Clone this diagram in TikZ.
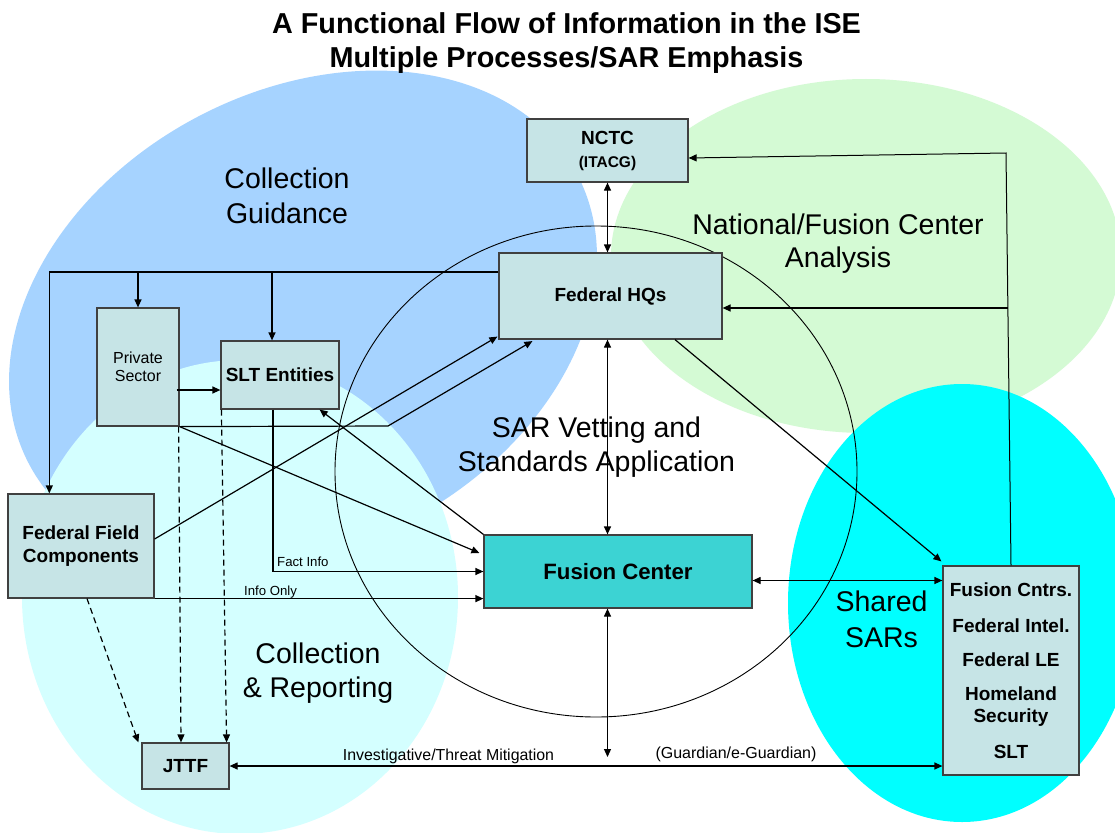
\documentclass[tikz,border=0pt]{standalone}
\usepackage{fontspec}
\setmainfont{Liberation Sans}
\usetikzlibrary{arrows.meta,calc}
\definecolor{cgblue}{RGB}{166,211,255}
\definecolor{cggreen}{RGB}{212,250,212}
\definecolor{cglcyan}{RGB}{212,255,255}
\definecolor{cgcyan}{RGB}{0,255,255}
\definecolor{boxfill}{RGB}{198,228,230}
\definecolor{fcfill}{RGB}{60,211,211}
\definecolor{boxline}{RGB}{64,64,64}
\begin{document}
\begin{tikzpicture}[x=1pt,y=-1pt,
  box/.style={draw=boxline, line width=1.2pt, fill=boxfill, inner sep=0pt, align=center,
              font=\bfseries\fontsize{19}{23}\selectfont},
  conn/.style={line width=1.2pt, -{Triangle[length=8pt,width=7pt]}},
  conntwo/.style={line width=1.2pt, {Triangle[length=8pt,width=7pt]}-{Triangle[length=8pt,width=7pt]}},
  dconn/.style={conn, dash pattern=on 6pt off 4pt},
  region/.style={align=center, inner sep=0pt, anchor=north},
  lbl/.style={inner sep=0pt, font=\fontsize{13.2}{15}\selectfont}
]
\useasboundingbox (0,0) rectangle (1115,832);
\clip (0,0) rectangle (1115,832);
\fill[white] (0,0) rectangle (1115,832);

% background regions
\fill[cgblue, rotate around={28:(303,319)}] (303,319) ellipse [x radius=310pt, y radius=228pt];
\fill[cggreen] (866,256) ellipse [x radius=255pt, y radius=177pt];
\fill[cglcyan] (240,597) ellipse [x radius=218pt, y radius=237pt];
\fill[cgcyan] (962,603) ellipse [x radius=174pt, y radius=219pt];
\draw[line width=0.9pt] (596,471.5) ellipse [x radius=261pt, y radius=245.5pt];

% title
\node[region, font=\bfseries\fontsize{28.8}{34}\selectfont] (title) at (566.5,12.4)
  {A Functional Flow of Information in the ISE\\Multiple Processes/SAR Emphasis};

% region labels
\node[region, font=\fontsize{28.5}{35}\selectfont] (rguide) at (287,167.5) {Collection\\Guidance};
\node[region, font=\fontsize{28.5}{33.5}\selectfont] (rnat) at (838,213.5) {National/Fusion Center\\Analysis};
\node[region, font=\fontsize{28.5}{34}\selectfont] (rsar) at (596.5,416.5) {SAR Vetting and\\Standards Application};
\node[region, font=\fontsize{28.5}{34}\selectfont] (rrep) at (318,642.5) {Collection\\\& Reporting};
\node[region, font=\fontsize{28.5}{36}\selectfont] (rshared) at (881.5,590.5) {Shared\\SARs};

% boxes
\node[box, minimum width=161pt, minimum height=63pt] (nctc) at (607.5,150.5)
  {{\fontsize{19}{20}\selectfont NCTC}\\{\fontsize{15.5}{20}\selectfont (ITACG)}};
\node[box, minimum width=223pt, minimum height=86pt] (fhq) at (610.5,296) {Federal HQs};
\node[box, minimum width=82pt, minimum height=118pt, font=\fontsize{16}{18.5}\selectfont] (ps) at (138,367) {Private\\Sector};
\node[box, minimum width=118pt, minimum height=68pt] (slt) at (280,375) {SLT Entities};
\node[box, minimum width=146pt, minimum height=104pt] (ffc) at (81,546) {Federal Field\\Components};
\node[box, fill=fcfill, minimum width=268pt, minimum height=73pt, font=\bfseries\fontsize{22.2}{26}\selectfont] (fc) at (618,571.5) {Fusion Center};
\node[box, minimum width=136pt, minimum height=209pt, font=\bfseries\fontsize{19}{22}\selectfont] (rb) at (1011,670.5)
  {Fusion Cntrs.\\[14pt]Federal Intel.\\[12pt]Federal LE\\[12pt]Homeland\\Security\\[14pt]SLT};
\node[box, minimum width=87pt, minimum height=46pt] (jttf) at (185.5,766) {JTTF};

% coordinates
\coordinate (mitig) at (607.5,757);
\coordinate (yfr) at (0,580.5);
\coordinate (topR) at (1006,153);
\coordinate (brR) at (1007.8,308);
\coordinate (busL) at (49.3,272);
\coordinate (sltin) at ([xshift=-8pt]slt.north);
\coordinate (psr) at ([xshift=-3pt,yshift=-23pt]ps.east);
\coordinate (kink) at (388,426);
\coordinate (fact) at ([xshift=-7pt]slt.south);

% connectors
\draw[conntwo] (nctc.south) -- (nctc.south |- fhq.north);
\draw[conntwo] (fhq.south -| nctc.south) -- (fc.north -| nctc.south);
\draw[conntwo] (fc.south -| mitig) -- (mitig);
\draw[conntwo] (jttf.east) -- (jttf.east -| rb.west);
\draw[conntwo] (fc.east |- yfr) -- (rb.west |- yfr);
\draw[conn] ([xshift=64.5pt]fhq.south) -- ([xshift=-1pt,yshift=4pt]rb.north west);
\draw[conn, line width=1pt] (rb.north) -- (topR) -- ([yshift=-7.5pt]nctc.east);
\draw[conn] (brR) -- (fhq.east |- brR);
\draw[conn] ([yshift=24pt]fhq.west) -- (busL) -- (busL |- ffc.north);
\draw[conn] (ps.north |- busL) -- (ps.north);
\draw[conn] (sltin |- busL) -- (sltin);
\draw[conn] (psr) -- (psr -| slt.west);
\draw[conn] (ps.south east) -- (kink) -- ([xshift=34pt,yshift=-1.5pt]fhq.south west);
\draw[conn] ([yshift=7pt]ffc.east) -- ([xshift=-1pt,yshift=3pt]fhq.south west);
\draw[conn] (ps.south east) -- ([xshift=-4pt,yshift=18.5pt]fc.west);
\draw[conn] (fc.north west) -- ([xshift=-20pt]slt.south east);
\draw[conn] (fact) -- (fact |- fc.west) -- (fc.west);
\draw[conn] (ffc.south east) -- (ffc.south east -| fc.west);
\draw[dconn] ([xshift=6pt]ffc.south) -- ([xshift=-3pt]jttf.north west);
\draw[dconn] ([xshift=-1pt]ps.south east) -- ([xshift=-4.5pt]jttf.north);
\draw[dconn] ([xshift=1pt]slt.south west) -- ([xshift=-3pt]jttf.north east);

% connector labels
\node[lbl, anchor=base west] (lfact) at (277,566.7) {Fact Info};
\node[lbl, anchor=base west] (linfo) at (244,595.3) {Info Only};
\node[lbl, anchor=base, font=\fontsize{15.9}{18}\selectfont] (linv) at (448.5,760.5) {Investigative/Threat Mitigation};
\node[lbl, anchor=base, font=\fontsize{16}{18}\selectfont] (lguard) at (736,758.5) {(Guardian/e-Guardian)};
\end{tikzpicture}
\end{document}
